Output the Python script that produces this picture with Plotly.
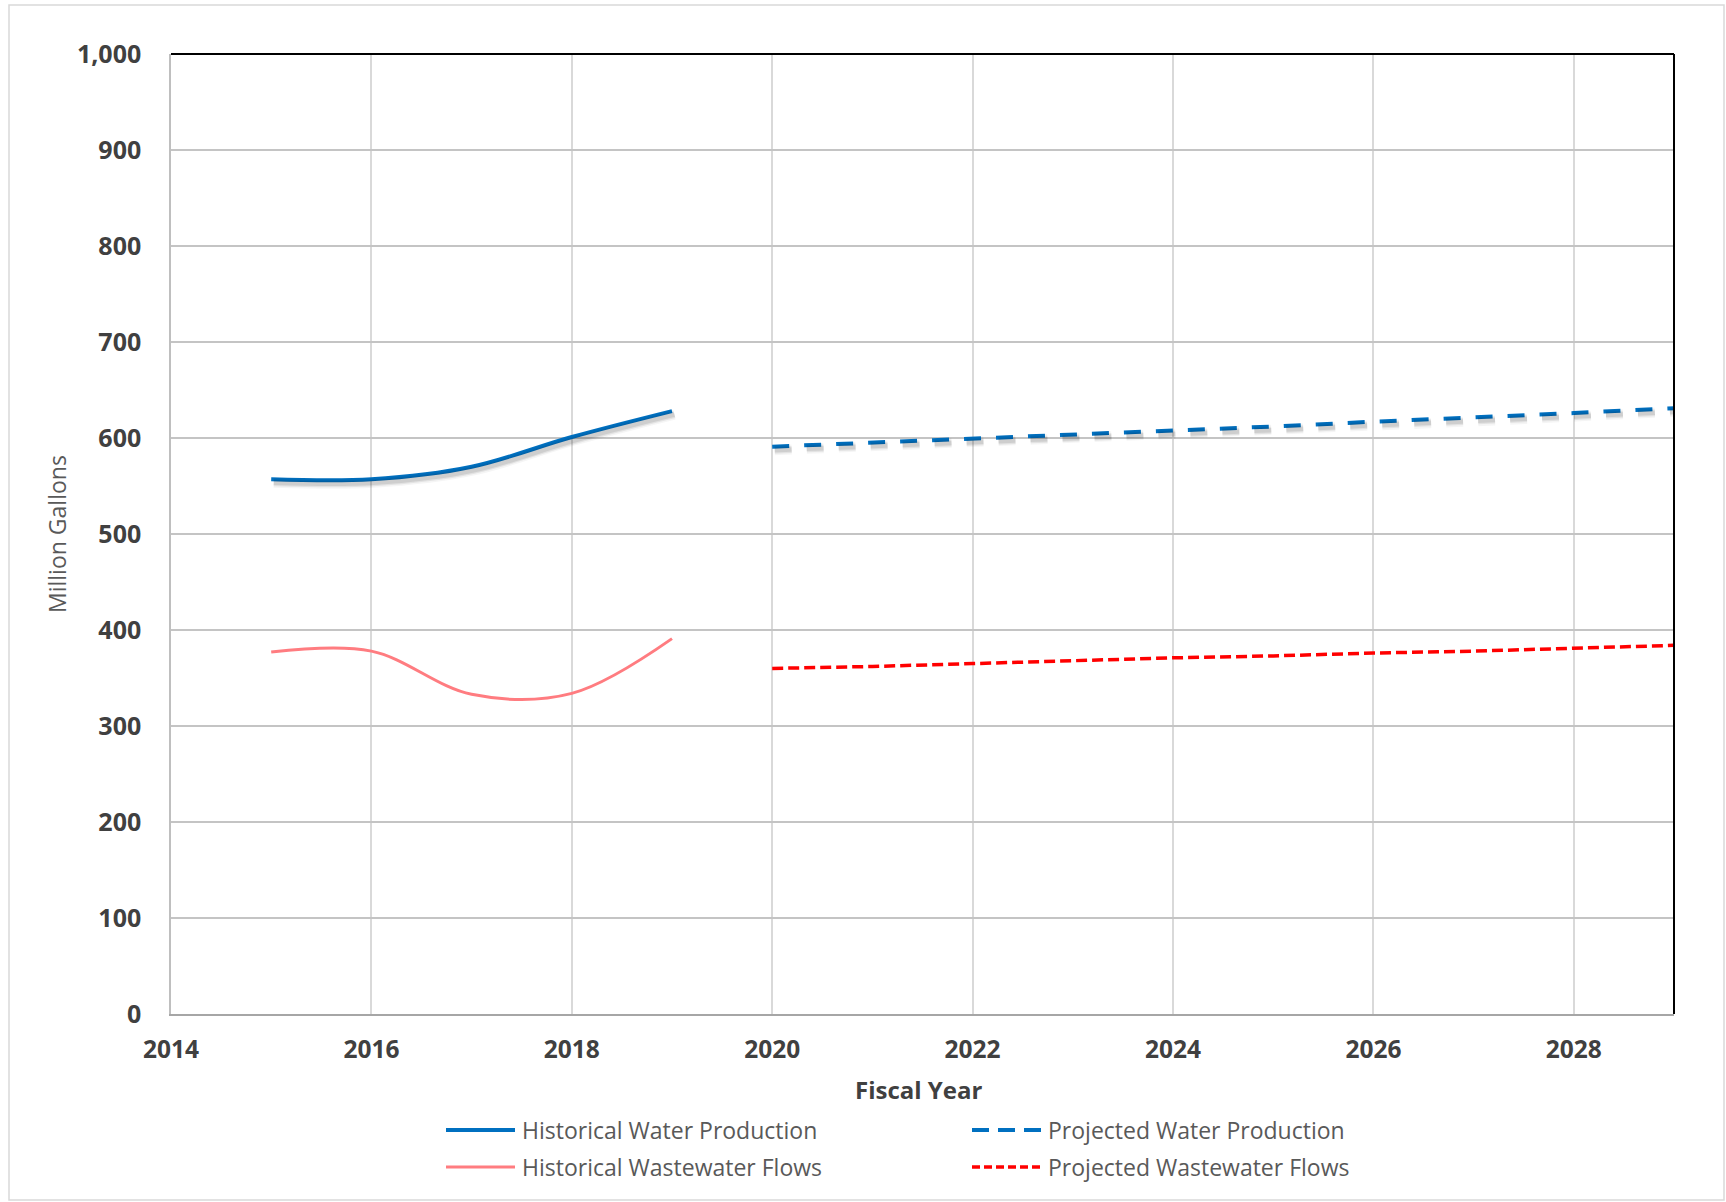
import plotly.graph_objects as go

# Historical and projected volumes (million gallons) by fiscal year
hist_years = [2015, 2016, 2017, 2018, 2019]
hist_water = [557, 557, 570, 601, 628]
hist_wastewater = [377, 378, 333, 334, 391]

proj_years = [2020, 2021, 2022, 2023, 2024, 2025, 2026, 2027, 2028, 2029]
proj_water = [591, 595, 599, 603, 608, 612, 617, 621, 626, 631]
proj_wastewater = [360, 362, 365, 368, 371, 373, 376, 378, 381, 384]

x_ticks = [2014, 2016, 2018, 2020, 2022, 2024, 2026, 2028]
y_ticks = [0, 100, 200, 300, 400, 500, 600, 700, 800, 900, 1000]

BLUE = "#0070C0"
SALMON = "#FF7C80"
RED = "#FF0000"
TEXT = "#404040"
FONT = "Open Sans"

W, H = 1726, 1202
L, R, T, B = 171, 52, 54, 188
PW, PH = W - L - R, H - T - B


def px_x(p):
    return (p - L) / PW


def px_y(p):
    return (H - B - p) / PH


X_RANGE = [2014, 2029]
Y_RANGE = [0, 1000]

fig = go.Figure()

# soft drop shadow under the blue series (same data on a slightly shifted axis pair)
dx_years = 2.5 * (X_RANGE[1] - X_RANGE[0]) / PW
dy_units = 3.5 * (Y_RANGE[1] - Y_RANGE[0]) / PH
for w, a in [(10, 0.04), (7, 0.07), (4.5, 0.09)]:
    fig.add_trace(go.Scatter(
        x=hist_years, y=hist_water, mode="lines", xaxis="x2", yaxis="y2",
        line=dict(color=f"rgba(0,0,0,{a})", width=w, shape="spline"),
        showlegend=False, hoverinfo="skip"))
    fig.add_trace(go.Scatter(
        x=proj_years, y=proj_water, mode="lines", xaxis="x2", yaxis="y2",
        line=dict(color=f"rgba(0,0,0,{a})", width=w, dash="17px,15px"),
        showlegend=False, hoverinfo="skip"))

fig.add_trace(go.Scatter(
    x=hist_years, y=hist_water, mode="lines", name="Historical Water Production",
    line=dict(color=BLUE, width=4, shape="spline"), showlegend=False))
fig.add_trace(go.Scatter(
    x=hist_years, y=hist_wastewater, mode="lines", name="Historical Wastewater Flows",
    line=dict(color=SALMON, width=3, shape="spline"), showlegend=False))
fig.add_trace(go.Scatter(
    x=proj_years, y=proj_water, mode="lines", name="Projected Water Production",
    line=dict(color=BLUE, width=4, dash="17px,15px"), showlegend=False))
fig.add_trace(go.Scatter(
    x=proj_years, y=proj_wastewater, mode="lines", name="Projected Wastewater Flows",
    line=dict(color=RED, width=3.5, dash="11px,5px"), showlegend=False))

shapes = []
# outer chart border
shapes.append(dict(type="rect", xref="paper", yref="paper",
                   x0=px_x(9), x1=px_x(1724), y0=px_y(1200), y1=px_y(5),
                   line=dict(color="#D9D9D9", width=1.5), layer="below"))
# top and right plot frame in black
shapes.append(dict(type="line", xref="paper", yref="paper", x0=0, x1=1, y0=1, y1=1,
                   line=dict(color="#000000", width=2)))
shapes.append(dict(type="line", xref="paper", yref="paper", x0=1, x1=1, y0=0, y1=1,
                   line=dict(color="#000000", width=2)))

# legend drawn with long line samples
legend_items = [
    ("Historical Water Production", BLUE, 4, "solid", 446, 1130),
    ("Historical Wastewater Flows", SALMON, 3, "solid", 446, 1167),
    ("Projected Water Production", BLUE, 4, "17px,9px", 972, 1130),
    ("Projected Wastewater Flows", RED, 3.5, "8px,4px", 972, 1167),
]
annotations = []
for label, color, width, dash, x0, yrow in legend_items:
    shapes.append(dict(type="line", xref="paper", yref="paper",
                       x0=px_x(x0), x1=px_x(x0 + 69), y0=px_y(yrow), y1=px_y(yrow),
                       line=dict(color=color, width=width, dash=dash)))
    annotations.append(dict(text=label, xref="paper", yref="paper",
                            x=px_x(x0 + 74), y=px_y(yrow), xanchor="left", yanchor="middle",
                            showarrow=False, font=dict(family=FONT, size=23, color="#595959")))

annotations.append(dict(text="Fiscal Year", xref="paper", yref="paper",
                        x=px_x(918), y=px_y(1089), xanchor="center", yanchor="middle",
                        showarrow=False,
                        font=dict(family=FONT, size=24, color=TEXT, weight="bold")))
annotations.append(dict(text="Million Gallons", xref="paper", yref="paper",
                        x=px_x(57), y=px_y(534), xanchor="center", yanchor="middle",
                        textangle=-90, showarrow=False,
                        font=dict(family=FONT, size=23, color="#595959")))

fig.update_layout(
    width=W, height=H,
    margin=dict(l=L, r=R, t=T, b=B, autoexpand=False),
    paper_bgcolor="white", plot_bgcolor="white",
    showlegend=False,
    shapes=shapes, annotations=annotations,
    xaxis=dict(range=X_RANGE, tickvals=x_ticks, ticktext=[str(v) for v in x_ticks],
               showgrid=True, gridcolor="#D9D9D9", gridwidth=1.5,
               showline=True, linecolor="#A6A6A6", linewidth=2,
               ticks="outside", ticklen=13, tickcolor="rgba(0,0,0,0)",
               tickfont=dict(family=FONT, size=24.5, color=TEXT, weight="bold"),
               zeroline=False, fixedrange=True),
    yaxis=dict(range=Y_RANGE, tickvals=y_ticks,
               ticktext=[f"{v:,}" for v in y_ticks],
               showgrid=True, gridcolor="#C4C4C4", gridwidth=1.5,
               showline=True, linecolor="#BFBFBF", linewidth=1.5,
               ticks="outside", ticklen=23, tickcolor="rgba(0,0,0,0)",
               tickfont=dict(family=FONT, size=25, color=TEXT, weight="bold"),
               zeroline=False, fixedrange=True),
    xaxis2=dict(range=[X_RANGE[0] - dx_years, X_RANGE[1] - dx_years], overlaying="x",
                visible=False, fixedrange=True),
    yaxis2=dict(range=[Y_RANGE[0] + dy_units, Y_RANGE[1] + dy_units], overlaying="y",
                visible=False, fixedrange=True),
)

fig.write_html("out.html")
